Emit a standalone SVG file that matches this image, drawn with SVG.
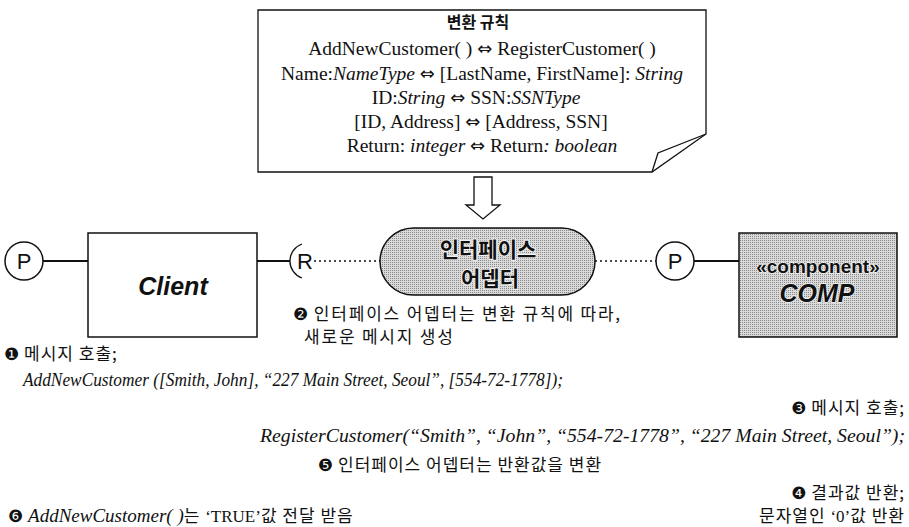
<svg xmlns="http://www.w3.org/2000/svg" width="909" height="527" viewBox="0 0 909 527">
  <defs>
    <!-- fine halftone screen used for the adapter and component fills -->
    <pattern id="screen" width="2" height="2" patternUnits="userSpaceOnUse">
      <rect width="2" height="2" fill="#dadada"/>
      <rect width="1" height="1" fill="#8a8a8a"/>
    </pattern>
    <style>
      .ser { font-family: "Liberation Serif", "DejaVu Serif", serif; fill: #111; letter-spacing: 0; }
      .kor { font-family: "Noto Sans CJK KR", "DejaVu Sans", sans-serif; fill: #111; }
      .ann { font-size: 17px; letter-spacing: 1px; }
      .wide { letter-spacing: 1.8px; }
      .num { font-family: "DejaVu Sans", sans-serif; letter-spacing: 0; }
      .arr { font-family: "DejaVu Sans", sans-serif; font-style: normal; font-size: 18px; }
      .it { font-style: italic; }
      .sans { font-family: "Liberation Sans", Arial, sans-serif; fill: #111; }
      .edge { fill: none; stroke: #111; stroke-width: 1.3; }
      .solid { stroke: #111; stroke-width: 2; fill: none; }
      .dot { stroke: #111; stroke-width: 1.5; stroke-dasharray: 2 3; fill: none; }
      .port { fill: #fff; stroke: #111; stroke-width: 1.5; }
    </style>
  </defs>

  <!-- transformation rules note -->
  <g id="rules">
    <path class="edge" d="M258,10 H706 V134 L652,172 H258 Z" fill="#fff"/>
    <path class="edge" d="M652,172 L658,153 L706,134"/>
    <text class="kor" x="478" y="28" font-size="16" font-weight="bold" text-anchor="middle">변환 규칙</text>
    <g class="ser" font-size="19.5" text-anchor="middle">
      <text x="482" y="55">AddNewCustomer( ) <tspan class="arr">⇔</tspan> RegisterCustomer( )</text>
      <text x="482" y="80">Name:<tspan class="it">NameType</tspan> <tspan class="arr">⇔</tspan> [LastName, FirstName]: <tspan class="it">String</tspan></text>
      <text x="476" y="104">ID:<tspan class="it">String</tspan> <tspan class="arr">⇔</tspan> SSN:<tspan class="it">SSNType</tspan></text>
      <text x="481" y="128">[ID, Address] <tspan class="arr">⇔</tspan> [Address, SSN]</text>
      <text x="482" y="152">Return: <tspan class="it">integer</tspan> <tspan class="arr">⇔</tspan>  Return<tspan class="it">: boolean</tspan></text>
    </g>
  </g>

  <!-- hollow arrow from the rules down to the adapter -->
  <g id="rules-arrow">
    <path class="edge" d="M474,177 V205 H466 L483,219 L500,205 H492 V177 Z" fill="#fff"/>
  </g>

  <!-- connectors -->
  <g id="connectors">
    <line class="solid" x1="43" y1="261" x2="88" y2="261"/>
    <line class="solid" x1="257" y1="261" x2="290" y2="261"/>
    <line class="dot" x1="314" y1="261" x2="380" y2="261"/>
    <line class="dot" x1="595" y1="261" x2="656" y2="261"/>
    <line class="solid" x1="694" y1="261" x2="739" y2="261"/>
  </g>

  <!-- provided port of the client -->
  <g id="client-port">
    <circle class="port" cx="24" cy="261" r="19"/>
    <text class="sans" x="24" y="269" font-size="22" text-anchor="middle">P</text>
  </g>

  <!-- client component -->
  <g id="client">
    <rect x="88" y="233" width="169" height="104" fill="#fff" stroke="#111" stroke-width="1.5"/>
    <text class="sans it" x="173" y="295" font-size="25" font-weight="bold" text-anchor="middle">Client</text>
  </g>

  <!-- required port of the client -->
  <g id="required-port">
    <path class="edge" stroke-width="1.5" d="M302,244 A18 18 0 0 0 302,278"/>
    <text class="sans" x="305" y="269" font-size="22" text-anchor="middle">R</text>
  </g>

  <!-- interface adapter -->
  <g id="adapter">
    <rect x="380" y="228" width="215" height="67" rx="33.5" fill="url(#screen)" stroke="#111" stroke-width="1.5"/>
    <g class="kor" font-size="21" font-weight="bold" text-anchor="middle" stroke="#f2f2f2" stroke-width="2" paint-order="stroke">
      <text x="488" y="257">인터페이스</text>
      <text x="490" y="286">어뎁터</text>
    </g>
  </g>

  <!-- provided port of the component -->
  <g id="comp-port">
    <circle class="port" cx="675" cy="261" r="19"/>
    <text class="sans" x="675" y="269" font-size="22" text-anchor="middle">P</text>
  </g>

  <!-- target component -->
  <g id="comp">
    <rect x="739" y="233" width="158" height="104" fill="url(#screen)" stroke="#111" stroke-width="1.5"/>
    <g class="sans" font-weight="bold" text-anchor="middle" stroke="#f2f2f2" stroke-width="1.5" paint-order="stroke">
      <text x="818" y="273" font-size="19">«component»</text>
      <text x="817" y="302" font-size="25" class="it">COMP</text>
    </g>
  </g>

  <!-- message flow annotations -->
  <g id="notes">
    <text class="kor ann wide" x="293" y="320"><tspan class="num">❷</tspan> 인터페이스 어뎁터는 변환 규칙에 따라,</text>
    <text class="kor ann wide" x="304" y="343">새로운 메시지 생성</text>

    <text class="kor ann" x="4" y="360"><tspan class="num">❶</tspan> 메시지 호출;</text>
    <text class="ser it" x="23" y="386" font-size="18.5" textLength="540" lengthAdjust="spacingAndGlyphs">AddNewCustomer ([Smith, John], “227 Main Street, Seoul”, [554-72-1778]);</text>

    <text class="kor ann" x="905" y="414" text-anchor="end"><tspan class="num">❸</tspan> 메시지 호출;</text>
    <text class="ser it" x="260" y="442" font-size="18.5" textLength="645" lengthAdjust="spacingAndGlyphs">RegisterCustomer(“Smith”, “John”, “554-72-1778”, “227 Main Street, Seoul”);</text>

    <text class="kor ann" x="318" y="471"><tspan class="num">❺</tspan> 인터페이스 어뎁터는 반환값을 변환</text>

    <text class="kor ann" x="905" y="499" text-anchor="end"><tspan class="num">❹</tspan> 결과값 반환;</text>
    <text class="kor ann" x="905" y="522" text-anchor="end">문자열인 <tspan class="ser">‘0’</tspan>값 반환</text>

    <text class="kor ann" x="8" y="522"><tspan class="num">❻</tspan> <tspan class="ser it" font-size="19">AddNewCustomer( )</tspan>는 <tspan class="ser">‘TRUE’</tspan>값 전달 받음</text>
  </g>
</svg>
